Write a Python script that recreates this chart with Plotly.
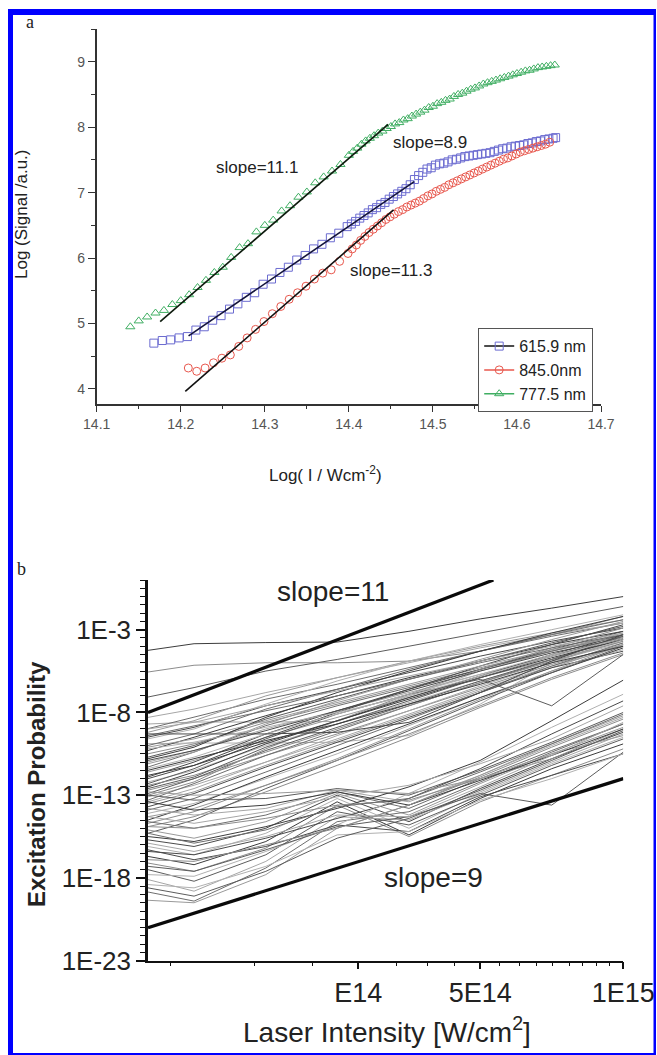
import plotly.graph_objects as go

W, H = 657, 1055

# ---------------- Panel a data (Log I, Log signal) ----------------
green_x = [14.140, 14.150, 14.160, 14.170, 14.180, 14.190, 14.200, 14.210, 14.220, 14.230,
           14.240, 14.250, 14.260, 14.270, 14.280, 14.290, 14.300, 14.310, 14.320, 14.330,
           14.340, 14.350, 14.360, 14.370, 14.380, 14.390,
           14.400, 14.405, 14.410, 14.415, 14.420, 14.425, 14.430, 14.435, 14.440, 14.445,
           14.450, 14.455, 14.460, 14.465, 14.470, 14.475, 14.480, 14.485, 14.490, 14.495,
           14.500, 14.505, 14.510, 14.515, 14.520, 14.525, 14.530, 14.535, 14.540, 14.545,
           14.550, 14.555, 14.560, 14.565, 14.570, 14.575, 14.580, 14.585, 14.590, 14.595,
           14.600, 14.605, 14.610, 14.615, 14.620, 14.625, 14.630, 14.635, 14.640, 14.645]
green_y = [4.95, 5.04, 5.10, 5.16, 5.20, 5.29, 5.35, 5.44, 5.55, 5.66,
           5.78, 5.86, 6.01, 6.16, 6.22, 6.40, 6.50, 6.58, 6.72, 6.80,
           6.93, 7.01, 7.15, 7.24, 7.33, 7.43,
           7.57, 7.63, 7.68, 7.74, 7.79, 7.83, 7.87, 7.91, 7.94, 7.98,
           8.01, 8.05, 8.07, 8.11, 8.13, 8.17, 8.20, 8.23, 8.26, 8.30,
           8.32, 8.36, 8.38, 8.41, 8.43, 8.47, 8.50, 8.52, 8.55, 8.58,
           8.60, 8.63, 8.66, 8.68, 8.70, 8.72, 8.74, 8.76, 8.78, 8.80,
           8.82, 8.84, 8.86, 8.87, 8.89, 8.91, 8.92, 8.93, 8.94, 8.95]

blue_x = [14.168, 14.178, 14.188, 14.198, 14.208, 14.218, 14.228, 14.238, 14.248, 14.258,
          14.268, 14.278, 14.288, 14.298, 14.308, 14.318, 14.328, 14.338, 14.348, 14.358,
          14.368, 14.378, 14.388, 14.398,
          14.403, 14.408, 14.413, 14.418, 14.423, 14.428, 14.433, 14.438, 14.443, 14.448,
          14.453, 14.458, 14.463, 14.468, 14.473, 14.478, 14.483, 14.488, 14.493, 14.498,
          14.503, 14.508, 14.513, 14.518, 14.523, 14.528, 14.533, 14.538, 14.543, 14.548,
          14.553, 14.558, 14.563, 14.568, 14.573, 14.578, 14.583, 14.588, 14.593, 14.598,
          14.603, 14.608, 14.613, 14.618, 14.623, 14.628, 14.633, 14.638, 14.643, 14.646]
blue_y = [4.70, 4.74, 4.75, 4.78, 4.80, 4.90, 4.95, 5.05, 5.12, 5.22,
          5.30, 5.40, 5.47, 5.60, 5.68, 5.78, 5.86, 5.97, 6.04, 6.14,
          6.21, 6.31, 6.38, 6.48,
          6.52, 6.56, 6.61, 6.65, 6.69, 6.74, 6.77, 6.82, 6.85, 6.90,
          6.94, 6.98, 7.02, 7.06, 7.12, 7.20, 7.26, 7.31, 7.36, 7.38,
          7.42, 7.44, 7.45, 7.47, 7.50, 7.51, 7.53, 7.55, 7.56, 7.57,
          7.58, 7.59, 7.60, 7.61, 7.63, 7.65, 7.67, 7.68, 7.70, 7.71,
          7.72, 7.73, 7.75, 7.76, 7.78, 7.79, 7.81, 7.82, 7.83, 7.84]

red_x = [14.209, 14.219, 14.229, 14.239, 14.249, 14.259, 14.269, 14.279, 14.289, 14.299,
         14.309, 14.319, 14.329, 14.339, 14.349, 14.359, 14.369, 14.379, 14.389, 14.399,
         14.404, 14.409, 14.414, 14.419, 14.424, 14.429, 14.434, 14.439, 14.444, 14.449,
         14.454, 14.459, 14.464, 14.469, 14.474, 14.479, 14.484, 14.489, 14.494, 14.499,
         14.504, 14.509, 14.514, 14.519, 14.524, 14.529, 14.534, 14.539, 14.544, 14.549,
         14.554, 14.559, 14.564, 14.569, 14.574, 14.579, 14.584, 14.589, 14.594, 14.599,
         14.604, 14.609, 14.614, 14.619, 14.624, 14.629, 14.634, 14.639]
red_y = [4.32, 4.27, 4.32, 4.40, 4.47, 4.52, 4.65, 4.78, 4.91, 5.03,
         5.15, 5.26, 5.37, 5.47, 5.57, 5.68, 5.77, 5.82, 5.95, 6.07,
         6.14, 6.20, 6.27, 6.33, 6.39, 6.44, 6.49, 6.54, 6.59, 6.63,
         6.67, 6.71, 6.74, 6.78, 6.81, 6.84, 6.87, 6.91, 6.95, 6.98,
         7.02, 7.05, 7.08, 7.12, 7.15, 7.18, 7.21, 7.24, 7.27, 7.30,
         7.33, 7.36, 7.39, 7.42, 7.45, 7.48, 7.51, 7.53, 7.56, 7.59,
         7.62, 7.64, 7.66, 7.68, 7.70, 7.72, 7.74, 7.77]

fit_green_x = [14.1755, 14.4468]
fit_green_y = [5.03, 8.044]
fit_blue_x = [14.2093, 14.4778]
fit_blue_y = [4.812, 7.168]
fit_red_x = [14.2054, 14.4532]
fit_red_y = [3.962, 6.736]

series_names = ["615.9 nm", "845.0nm", "777.5 nm"]
slope_labels_a = ["slope=11.1", "slope=8.9", "slope=11.3"]

# ---------------- Panel b data ----------------
intensity = [1.0e14, 1.25e14, 1.77e14, 2.5e14, 3.54e14, 5.0e14, 7.07e14, 1.0e15]
# log10 of excitation probability at each intensity
upper_lines = [
    [-4.25, -3.85, -3.78, -3.75, -3.10, -2.35, -1.70, -1.00],
    [-5.56, -5.15, -5.00, -5.00, -4.90, -4.30, -3.30, -2.20],
    [-7.07, -6.50, -5.50, -4.80, -4.00, -3.20, -2.40, -1.60],
    [-8.70, -8.58, -8.58, -8.55, -7.00, -5.50, -4.30, -3.20],
    [-8.98, -8.30, -7.20, -6.30, -5.30, -4.30, -3.40, -2.60],
    [-9.20, -8.50, -7.00, -5.90, -4.90, -4.00, -3.20, -2.40],
    [-9.49, -8.90, -7.60, -6.60, -5.60, -4.60, -3.70, -2.90],
    [-9.89, -9.85, -9.85, -9.80, -9.40, -7.50, -5.00, -3.50],
    [-10.30, -9.50, -8.20, -7.00, -5.90, -4.90, -3.90, -3.10],
    [-10.50, -9.90, -8.60, -7.50, -6.40, -5.30, -4.30, -3.40],
    [-10.70, -10.00, -8.40, -7.20, -6.00, -4.90, -3.80, -2.80],
    [-11.00, -10.30, -9.00, -7.90, -6.80, -5.70, -4.60, -3.60],
    [-11.30, -10.40, -8.80, -7.60, -6.50, -5.40, -4.30, -3.30],
    [-11.60, -10.90, -9.50, -8.30, -7.10, -5.90, -4.80, -3.70],
    [-11.90, -11.00, -9.30, -7.90, -6.60, -5.40, -4.20, -3.10],
    [-12.20, -11.50, -10.00, -8.70, -7.40, -6.10, -4.90, -3.80],
    [-12.50, -11.60, -9.90, -8.50, -7.10, -5.80, -4.50, -3.30],
    [-12.70, -12.00, -10.60, -9.30, -7.90, -6.50, -5.10, -3.90],
    [-12.90, -12.00, -10.30, -8.90, -7.50, -6.10, -4.80, -3.50],
    [-13.10, -12.40, -11.00, -9.60, -8.10, -6.60, -5.20, -4.00],
    [-13.30, -12.30, -10.60, -9.10, -7.60, -6.20, -4.80, -3.40],
    [-13.50, -12.80, -11.20, -9.70, -8.20, -6.70, -5.30, -3.90],
    [-13.70, -12.90, -11.30, -9.80, -8.30, -6.80, -5.30, -4.30],
    [-14.10, -13.50, -12.00, -10.50, -8.80, -7.10, -5.50, -4.20],
    [-14.50, -13.60, -11.90, -10.30, -8.70, -7.10, -5.60, -4.10],
    [-14.90, -14.30, -12.80, -11.20, -9.50, -7.70, -6.00, -4.50],
    [-15.30, -14.50, -12.60, -10.90, -9.10, -7.30, -5.60, -4.00],
    [-8.30, -7.80, -6.80, -5.90, -5.00, -4.10, -3.30, -2.60],
    [-10.00, -9.30, -7.80, -6.60, -5.40, -4.30, -3.30, -2.40],
    [-11.10, -10.40, -8.70, -7.30, -6.00, -4.80, -3.60, -2.50],
    [-12.00, -11.20, -9.50, -8.00, -6.60, -5.20, -3.90, -2.70],
    [-9.60, -9.00, -7.50, -6.10, -4.90, -3.90, -3.00, -2.10],
    [-10.80, -10.10, -8.30, -6.80, -5.50, -4.30, -3.20, -2.20],
    [-13.00, -12.20, -10.20, -8.50, -6.90, -5.40, -4.10, -2.90],
    [-12.30, -11.40, -9.60, -8.10, -6.90, -6.00, -7.60, -4.50],
    [-9.00, -8.60, -7.60, -6.70, -5.80, -4.90, -4.00, -3.20],
    [-9.40, -8.80, -7.90, -7.00, -6.00, -5.00, -4.10, -3.30],
    [-10.10, -9.60, -8.50, -7.40, -6.30, -5.20, -4.20, -3.40],
    [-10.90, -10.30, -9.10, -7.90, -6.70, -5.50, -4.40, -3.50],
    [-11.40, -10.70, -9.30, -8.10, -6.90, -5.70, -4.50, -3.60],
    [-11.80, -11.20, -9.80, -8.50, -7.20, -5.90, -4.70, -3.60],
    [-12.40, -11.80, -10.40, -9.00, -7.60, -6.20, -4.90, -3.70],
    [-12.60, -11.90, -10.10, -8.70, -7.30, -5.90, -4.60, -3.40],
    [-13.40, -12.60, -11.00, -9.40, -7.90, -6.40, -5.00, -3.60],
    [-13.90, -13.20, -11.60, -10.00, -8.40, -6.80, -5.20, -3.80],
    [-14.30, -13.80, -12.40, -10.80, -9.00, -7.20, -5.50, -3.90],
    [-9.30, -9.30, -9.30, -9.20, -8.60, -6.80, -4.90, -3.30],
    [-10.20, -9.80, -8.90, -8.00, -7.00, -5.80, -4.60, -3.50],
    [-11.50, -10.80, -9.70, -8.70, -7.50, -6.30, -5.00, -4.00],
    [-14.70, -14.00, -12.40, -10.90, -9.30, -7.60, -5.90, -4.40],
]
lower_lines = [
    [-13.00, -13.30, -13.20, -12.60, -13.00, -11.50, -9.80, -8.00],
    [-13.80, -14.20, -13.80, -12.70, -13.40, -11.80, -10.00, -8.30],
    [-14.60, -15.00, -14.20, -12.80, -13.80, -12.00, -10.30, -8.70],
    [-15.10, -15.60, -14.60, -12.90, -14.20, -12.30, -10.50, -8.90],
    [-15.70, -16.10, -15.00, -13.00, -14.60, -12.60, -10.80, -9.20],
    [-16.10, -16.60, -15.30, -13.20, -15.00, -12.90, -11.10, -9.50],
    [-16.70, -17.20, -15.80, -13.40, -15.40, -13.20, -11.40, -9.90],
    [-17.10, -17.60, -16.20, -13.60, -15.50, -13.40, -11.80, -10.20],
    [-17.50, -18.20, -16.60, -14.00, -14.80, -13.00, -11.20, -9.60],
    [-18.10, -18.80, -17.00, -14.30, -14.50, -12.80, -11.00, -9.30],
    [-18.85, -19.40, -17.40, -14.60, -14.00, -12.20, -10.40, -8.70],
    [-19.35, -19.50, -17.80, -15.00, -13.60, -11.80, -9.90, -8.20],
    [-16.40, -16.60, -15.60, -14.40, -13.20, -11.40, -9.30, -7.30],
    [-17.80, -17.90, -16.40, -14.80, -12.90, -11.00, -8.90, -6.90],
    [-15.50, -15.80, -14.90, -13.80, -12.50, -10.90, -8.50, -6.05],
    [-14.90, -15.00, -14.40, -13.60, -13.30, -12.00, -10.80, -9.00],
    [-17.30, -17.60, -16.30, -14.90, -14.30, -12.90, -13.60, -10.40],
    [-14.30, -14.70, -14.00, -13.10, -12.40, -11.10, -9.60, -7.60],
    [-15.30, -15.90, -15.10, -13.70, -13.20, -11.60, -9.90, -8.10],
    [-12.80, -13.00, -12.90, -12.70, -12.90, -12.00, -10.50, -9.40],
    [-16.30, -16.90, -16.10, -14.80, -15.20, -13.10, -11.80, -10.50],
    [-18.40, -18.60, -17.30, -15.40, -15.20, -13.30, -12.00, -10.50],
    [-13.40, -13.90, -13.60, -12.80, -13.60, -12.10, -10.60, -9.00],
    [-16.90, -17.00, -16.00, -15.00, -13.60, -11.90, -10.10, -8.40],
    [-18.60, -19.10, -17.60, -15.60, -14.40, -12.70, -10.90, -9.10],
    [-15.90, -16.40, -15.50, -14.20, -14.30, -12.50, -10.60, -8.60],
]
slope11_x = [1.0e14, 5.33e14]
slope11_y = [1e-8, 1e0]
slope9_x = [1.0e14, 1.0e15]
slope9_y = [1e-21, 1e-12]

ytick_b_vals = [1e-23, 1e-18, 1e-13, 1e-8, 1e-3]
ytick_b_text = ["1E-23", "1E-18", "1E-13", "1E-8", "1E-3"]
xtick_b_vals = [2.77e14, 5e14, 1e15]
xtick_b_text = ["E14", "5E14", "1E15"]
xminor_b_exp = [14.0477, 14.2248, 14.347, 14.5225, 14.589, 14.645, 14.739, 14.782,
                14.8166, 14.851, 14.887, 14.914, 14.9426, 14.970]

# ---------------- styles ----------------
BLUE = "#6b6bd0"
RED = "#e8574d"
GREEN = "#3fae62"
FONT = "Liberation Sans"
grays = ["#3c3c3c", "#8c8c8c", "#5c5c5c", "#a6a6a6", "#6e6e6e", "#999999", "#4a4a4a", "#b0b0b0"]

def pxx(x):
    return x / W

def pxy(y):
    return 1 - y / H

fig = go.Figure()

# panel a markers
for xs, ys, col, sym in [(blue_x, blue_y, BLUE, "square-open"),
                         (red_x, red_y, RED, "circle-open"),
                         (green_x, green_y, GREEN, "triangle-up-open")]:
    fig.add_trace(go.Scatter(x=xs, y=ys, mode="markers", showlegend=False,
                             marker=dict(symbol=sym, size=8, color=col, line=dict(width=1, color=col)),
                             xaxis="x", yaxis="y"))
# fit lines
for xs, ys, col in [(fit_green_x, fit_green_y, "#0d1a0d"),
                    (fit_blue_x, fit_blue_y, "#14143c"),
                    (fit_red_x, fit_red_y, "#111111")]:
    fig.add_trace(go.Scatter(x=xs, y=ys, mode="lines", showlegend=False,
                             line=dict(color=col, width=1.6), xaxis="x", yaxis="y"))
# legend entries
for name, lcol, mcol, sym in [(series_names[0], "#111111", BLUE, "square-open"),
                              (series_names[1], RED, RED, "circle-open"),
                              (series_names[2], GREEN, GREEN, "triangle-up-open")]:
    fig.add_trace(go.Scatter(x=[None], y=[None], mode="lines+markers", name=name,
                             line=dict(color=lcol, width=1.5),
                             marker=dict(symbol=sym, size=8, color=mcol, line=dict(width=1, color=mcol)),
                             xaxis="x", yaxis="y"))

# panel b gray lines
for i, ln in enumerate(upper_lines + lower_lines):
    fig.add_trace(go.Scatter(x=intensity, y=[10 ** v for v in ln], mode="lines", showlegend=False,
                             line=dict(color=grays[i % len(grays)], width=1.0),
                             xaxis="x2", yaxis="y2"))
for xs, ys in [(slope11_x, slope11_y), (slope9_x, slope9_y)]:
    fig.add_trace(go.Scatter(x=xs, y=ys, mode="lines", showlegend=False,
                             line=dict(color="#0a0a0a", width=3.2), xaxis="x2", yaxis="y2"))

annotations = [
    dict(text="a", x=pxx(30), y=pxy(22), font=dict(family="Liberation Serif", size=18, color="#222")),
    dict(text="b", x=pxx(21), y=pxy(569), font=dict(family="Liberation Serif", size=18, color="#222")),
    dict(text=slope_labels_a[0], x=pxx(257), y=pxy(168), font=dict(family=FONT, size=17, color="#222")),
    dict(text=slope_labels_a[1], x=pxx(430), y=pxy(143), font=dict(family=FONT, size=17, color="#222")),
    dict(text=slope_labels_a[2], x=pxx(391), y=pxy(270), font=dict(family=FONT, size=17, color="#222")),
    dict(text="Log (Signal /a.u.)", x=pxx(21), y=pxy(215), textangle=-90,
         font=dict(family=FONT, size=17, color="#222")),
    dict(text="Log( I / Wcm<sup>-2</sup>)", x=pxx(325), y=pxy(474),
         font=dict(family=FONT, size=17, color="#222")),
    dict(text="slope=11", x=pxx(333), y=pxy(591), font=dict(family=FONT, size=28, color="#222")),
    dict(text="slope=9", x=pxx(433), y=pxy(877), font=dict(family=FONT, size=28, color="#222")),
    dict(text="<b>Excitation Probability</b>", x=pxx(36), y=pxy(784), textangle=-90,
         font=dict(family=FONT, size=24, color="#222")),
    dict(text="Laser Intensity [W/cm<sup>2</sup>]", x=pxx(387), y=pxy(1030),
         font=dict(family=FONT, size=28, color="#222")),
]
for a in annotations:
    a.update(xref="paper", yref="paper", showarrow=False, xanchor="center", yanchor="middle")

shapes = [
    dict(type="rect", x0=pxx(8), x1=pxx(656), y0=pxy(9), y1=pxy(15)),
    dict(type="rect", x0=pxx(8), x1=pxx(13), y0=pxy(9), y1=pxy(1055)),
    dict(type="rect", x0=pxx(653.5), x1=pxx(656), y0=pxy(9), y1=pxy(1055)),
    dict(type="rect", x0=pxx(8), x1=pxx(656), y0=pxy(1053), y1=pxy(1055)),
]
for s in shapes:
    s.update(xref="paper", yref="paper", fillcolor="#0000ff", line=dict(width=0), layer="above")

axis_common = dict(showgrid=False, zeroline=False, showline=True, automargin=False)

fig.update_layout(
    width=W, height=H, autosize=False,
    margin=dict(l=0, r=0, t=0, b=0),
    paper_bgcolor="white", plot_bgcolor="white",
    font=dict(family=FONT),
    showlegend=True,
    legend=dict(x=pxx(478), y=pxy(328), xanchor="left", yanchor="top",
                bordercolor="#555", borderwidth=1.2, bgcolor="white",
                font=dict(family=FONT, size=16, color="#222"), tracegroupgap=0,
                itemwidth=30),
    xaxis=dict(**axis_common, domain=[pxx(96.7), pxx(601)], range=[14.1, 14.7], anchor="y",
               linecolor="#333", linewidth=1.5, ticks="outside", ticklen=6, tickwidth=1.2,
               tickcolor="#333", tick0=14.1, dtick=0.1, tickformat=".1f",
               tickfont=dict(family=FONT, size=14, color="#555"),
               minor=dict(dtick=0.05, ticks="outside", ticklen=3, tickcolor="#333", tickwidth=1.2)),
    yaxis=dict(**axis_common, domain=[pxy(404), pxy(29)], range=[3.77, 9.5], anchor="x",
               linecolor="#333", linewidth=1.5, ticks="outside", ticklen=7, tickwidth=1.2,
               tickcolor="#333", tick0=4, dtick=1,
               tickfont=dict(family=FONT, size=14, color="#555"),
               minor=dict(dtick=0.5, tick0=4, ticks="outside", ticklen=4, tickcolor="#333", tickwidth=1.2)),
    xaxis2=dict(**axis_common, type="log", domain=[pxx(148), pxx(623.3)], range=[14, 15], anchor="y2",
                linecolor="#111", linewidth=1.5, ticks="outside", ticklen=7, tickwidth=1.5,
                tickcolor="#111", tickmode="array", tickvals=xtick_b_vals, ticktext=xtick_b_text,
                tickfont=dict(family=FONT, size=27, color="#222"),
                minor=dict(tickmode="array", tickvals=[10 ** e for e in xminor_b_exp],
                           ticks="outside", ticklen=4, tickcolor="#111", tickwidth=1.2)),
    yaxis2=dict(**axis_common, type="log", domain=[pxy(960.7), pxy(580)], range=[-23, 0], anchor="x2",
                linecolor="#111", linewidth=2.5, ticks="outside", ticklen=9, tickwidth=2,
                tickcolor="#111", tickmode="array", tickvals=ytick_b_vals, ticktext=ytick_b_text,
                tickfont=dict(family=FONT, size=26, color="#222"),
                minor=dict(tickmode="array", tickvals=[10 ** (k / 2) for k in range(-46, 1)],
                           ticks="outside", ticklen=5, tickcolor="#111", tickwidth=1.2)),
    annotations=annotations,
    shapes=shapes,
)

fig.write_html("out.html", config={"displayModeBar": False},
               post_script="document.body.style.margin='0';document.body.style.overflow='hidden';")
